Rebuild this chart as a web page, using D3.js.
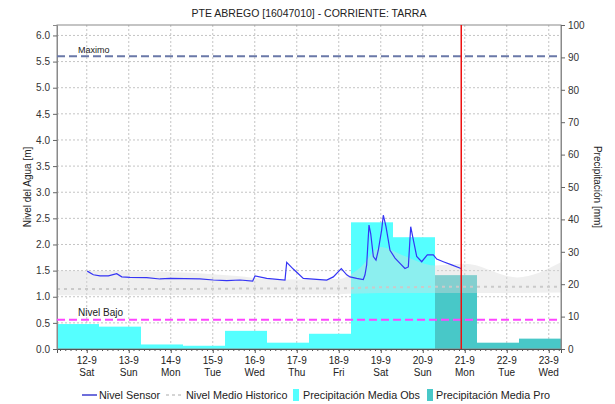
<!DOCTYPE html>
<html>
<head>
<meta charset="utf-8">
<script src="https://cdn.jsdelivr.net/npm/d3@7"></script>
<style>
  body { margin: 0; background: #fff; }
  svg { font-family: "Liberation Sans", Arial, sans-serif; }
</style>
</head>
<body>
<div id="chart"></div>
<script>
// Datos (fechas dia-mes hora, año 2020)
const titulo = 'PTE ABREGO [16047010] - CORRIENTE: TARRA'
const dias = ['12-9', '13-9', '14-9', '15-9', '16-9', '17-9', '18-9', '19-9', '20-9', '21-9', '22-9', '23-9']
const diasSemana = ['Sat', 'Sun', 'Mon', 'Tue', 'Wed', 'Thu', 'Fri', 'Sat', 'Sun', 'Mon', 'Tue', 'Wed']

// Nivel del sensor [m]
const sensorFechas = ['12-9 00:18', '12-9 03:45', '12-9 07:34', '12-9 12:20', '12-9 17:07', '12-9 20:00',
  '13-9 00:43', '13-9 10:15', '13-9 17:51', '13-9 23:34', '14-9 16:43', '15-9 00:19', '15-9 08:00',
  '15-9 15:34', '15-9 22:50', '16-9 00:09', '16-9 06:50', '16-9 17:17', '16-9 18:15', '16-9 22:02',
  '17-9 03:44', '17-9 17:07', '17-9 20:53', '18-9 01:28', '18-9 04:33', '18-9 06:26', '18-9 10:15',
  '18-9 14:02', '18-9 15:00', '18-9 15:57', '18-9 17:17', '18-9 18:15', '18-9 19:46', '18-9 21:17',
  '18-9 22:36', '19-9 00:31', '19-9 01:28', '19-9 03:00', '19-9 05:17', '19-9 08:09', '19-9 11:00',
  '19-9 13:51', '19-9 15:45', '19-9 17:07', '19-9 18:15', '19-9 20:33', '19-9 23:24', '20-9 02:36',
  '20-9 06:02', '20-9 08:00', '20-9 11:45', '20-9 16:32', '20-9 21:51']
const sensorNivel = [1.49, 1.42, 1.40, 1.40, 1.44, 1.38,
  1.37, 1.365, 1.34, 1.35, 1.34, 1.32, 1.31,
  1.32, 1.30, 1.40, 1.35, 1.32, 1.66, 1.53,
  1.35, 1.32, 1.38, 1.54, 1.42, 1.38, 1.35,
  1.33, 1.42, 1.61, 2.37, 2.21, 1.77, 1.70,
  1.89, 2.28, 2.56, 2.34, 1.89, 1.74, 1.64,
  1.54, 1.57, 2.34, 2.15, 1.77, 1.67, 1.80,
  1.80, 1.72, 1.67, 1.61, 1.54]

// Nivel medio historico y banda
const histFechas = ['11-9 07:00', '13-9 00:00', '14-9 12:00', '15-9 12:00', '16-9 12:00', '18-9 00:00',
  '18-9 12:00', '19-9 00:00', '19-9 12:00', '20-9 07:00', '21-9 00:00', '22-9 06:00', '23-9 07:00']
const histMin = [1.03, 1.03, 1.04, 1.05, 1.05, 1.05, 1.06, 1.07, 1.07, 1.07, 1.07, 1.07, 1.08]
const histMax = [1.50, 1.49, 1.46, 1.40, 1.33, 1.34, 1.55, 1.95, 1.80, 1.60, 1.63, 1.37, 1.66]
const histMedio = [1.15, 1.15, 1.15, 1.155, 1.16, 1.16, 1.17, 1.18, 1.18, 1.19, 1.19, 1.19, 1.19]

// Precipitacion diaria (de 07:00 a 07:00) [mm]
const obsDias = ['11-9', '12-9', '13-9', '14-9', '15-9', '16-9', '17-9', '18-9', '19-9']
const precipObs = [7.7, 6.9, 1.4, 1.0, 5.6, 1.95, 4.7, 39.1, 34.5]
const proDias = ['20-9', '21-9', '22-9']
const precipPro = [22.8, 1.95, 3.2]

const nivelMaximo = 5.6
const nivelBajo = 0.56
const ahora = '20-9 22:00'

const parse = d3.timeParse('%Y %d-%m %H:%M')
const fecha = s => parse('2020 ' + s)

function drawChart() {
  const width = 615
  const height = 404
  const left = 57, right = 561, top = 25, bottom = 349

  const svg = d3.select('#chart').append('svg')
    .attr('width', width)
    .attr('height', height)

  svg.append('rect').attr('width', width).attr('height', height).attr('fill', '#fff')

  const x = d3.scaleTime()
    .domain([fecha('11-9 07:00'), fecha('23-9 07:00')])
    .range([left, right])
  const y = d3.scaleLinear().domain([0, 6.2]).range([bottom, top])
  const y2 = d3.scaleLinear().domain([0, 100]).range([bottom, top])

  const diasFechas = dias.map(d => fecha(d + ' 00:00'))
  const yTicks = d3.range(0, 6.01, 0.5)

  // rejilla
  const grid = svg.append('g')
  grid.selectAll('.gx').data(diasFechas).enter().append('line')
    .attr('x1', d => x(d)).attr('x2', d => x(d))
    .attr('y1', top).attr('y2', bottom)
    .attr('stroke', '#c4c4c4').attr('stroke-dasharray', '2,2')
  grid.selectAll('.gy').data(yTicks.slice(1)).enter().append('line')
    .attr('x1', left).attr('x2', right)
    .attr('y1', d => y(d)).attr('y2', d => y(d))
    .attr('stroke', '#c4c4c4').attr('stroke-dasharray', '2,2')

  // barras de precipitacion
  const barras = (dias, valores, color) => {
    svg.append('g').selectAll('rect')
      .data(valores).enter().append('rect')
      .attr('x', (d, i) => x(fecha(dias[i] + ' 07:00')))
      .attr('width', (d, i) => x(d3.timeDay.offset(fecha(dias[i] + ' 07:00'), 1)) - x(fecha(dias[i] + ' 07:00')))
      .attr('y', d => y2(d))
      .attr('height', d => y2(0) - y2(d))
      .attr('fill', color)
  }
  barras(obsDias, precipObs, '#55ffff')
  barras(proDias, precipPro, '#48c8c8')

  // banda historica
  const hist = histFechas.map((f, i) => ({ t: fecha(f), min: histMin[i], max: histMax[i], med: histMedio[i] }))
  const area = d3.area().curve(d3.curveMonotoneX)
    .x(d => x(d.t)).y0(d => y(d.min)).y1(d => y(d.max))
  svg.append('path').attr('d', area(hist))
    .attr('fill', '#d8d8d8').attr('fill-opacity', 0.42)
  const lineMed = d3.line().curve(d3.curveMonotoneX).x(d => x(d.t)).y(d => y(d.med))
  svg.append('path').attr('d', lineMed(hist))
    .attr('fill', 'none').attr('stroke', '#cacaca').attr('stroke-width', 2)
    .attr('stroke-dasharray', '3,4')

  // marco
  svg.append('rect')
    .attr('x', left).attr('y', top).attr('width', right - left).attr('height', bottom - top)
    .attr('fill', 'none').attr('stroke', '#8a8a8a')

  // ejes
  const axisY = svg.append('g')
    .attr('transform', `translate(${left},0)`)
    .call(d3.axisLeft(y).tickValues(yTicks).tickFormat(d3.format('.1f')).tickSize(4).tickPadding(3))
  const axisY2 = svg.append('g')
    .attr('transform', `translate(${right},0)`)
    .call(d3.axisRight(y2).tickValues(d3.range(0, 101, 10)).tickSize(4).tickPadding(3))
  ;[axisY, axisY2].forEach(a => {
    a.select('.domain').attr('stroke', '#8a8a8a')
    a.selectAll('line').attr('stroke', '#666')
    a.selectAll('text').attr('font-size', 10).attr('fill', '#333')
      .attr('font-family', '"Liberation Sans", Arial, sans-serif')
  })

  // eje x: marcas menores cada 3 horas
  svg.append('g').selectAll('line')
    .data(d3.timeHour.every(3).range(x.domain()[0], x.domain()[1]))
    .enter().append('line')
    .attr('x1', d => x(d)).attr('x2', d => x(d))
    .attr('y1', bottom).attr('y2', bottom + 2)
    .attr('stroke', '#555')
  const axisX = svg.append('g')
    .attr('transform', `translate(0,${bottom})`)
    .call(d3.axisBottom(x).tickValues(diasFechas).tickSize(4).tickFormat(''))
  axisX.select('.domain').attr('stroke', '#555')
  axisX.selectAll('line').attr('stroke', '#555')
  const etiquetas = svg.append('g').selectAll('text')
    .data(diasFechas).enter().append('text')
    .attr('x', d => x(d)).attr('y', bottom + 15)
    .attr('text-anchor', 'middle').attr('font-size', 10).attr('fill', '#222')
  etiquetas.append('tspan').attr('x', d => x(d)).text((d, i) => dias[i])
  etiquetas.append('tspan').attr('x', d => x(d)).attr('dy', 12).text((d, i) => diasSemana[i])

  // nivel del sensor
  const sensor = sensorFechas.map((f, i) => ({ t: fecha(f), v: sensorNivel[i] }))
  const lineSensor = d3.line().x(d => x(d.t)).y(d => y(d.v))
  svg.append('path').attr('d', lineSensor(sensor))
    .attr('fill', 'none').attr('stroke', '#3535f5').attr('stroke-width', 1.2)

  // umbrales
  svg.append('line')
    .attr('x1', left).attr('x2', right).attr('y1', y(nivelMaximo)).attr('y2', y(nivelMaximo))
    .attr('stroke', '#6a78a8').attr('stroke-width', 2).attr('stroke-dasharray', '8,4')
  svg.append('text').attr('x', 78).attr('y', y(nivelMaximo) - 3)
    .attr('font-size', 9).attr('fill', '#222').text('Maximo')
  svg.append('line')
    .attr('x1', left).attr('x2', right).attr('y1', y(nivelBajo)).attr('y2', y(nivelBajo))
    .attr('stroke', '#ff44ff').attr('stroke-width', 2).attr('stroke-dasharray', '8,4')
  svg.append('text').attr('x', 78).attr('y', y(nivelBajo) - 4)
    .attr('font-size', 10).attr('fill', '#222').text('Nivel Bajo')

  // linea de tiempo actual
  const xa = x(fecha(ahora))
  svg.append('line')
    .attr('x1', xa).attr('x2', xa)
    .attr('y1', top).attr('y2', bottom)
    .attr('stroke', '#ee1111').attr('stroke-width', 1.5)

  // titulos
  svg.append('text').attr('x', (left + right) / 2).attr('y', 17)
    .attr('text-anchor', 'middle').attr('font-size', 10.5).attr('fill', '#222').text(titulo)
  svg.append('text')
    .attr('transform', `translate(31,${(top + bottom) / 2}) rotate(-90)`)
    .attr('text-anchor', 'middle').attr('font-size', 10).attr('fill', '#222')
    .text('Nivel del Agua [m]')
  svg.append('text')
    .attr('transform', `translate(594,${(top + bottom) / 2}) rotate(90)`)
    .attr('text-anchor', 'middle').attr('font-size', 10).attr('fill', '#222')
    .text('Precipitación [mm]')

  // leyenda
  const ly = 395
  const leg = svg.append('g').attr('font-size', 10.8).attr('fill', '#222')
  leg.append('line').attr('x1', 82).attr('x2', 97).attr('y1', ly).attr('y2', ly)
    .attr('stroke', '#1f1fc8').attr('stroke-width', 1.3)
  leg.append('text').attr('x', 99).attr('y', ly + 4).text('Nivel Sensor')
  leg.append('line').attr('x1', 166).attr('x2', 182).attr('y1', ly).attr('y2', ly)
    .attr('stroke', '#c8c8c8').attr('stroke-width', 1.5).attr('stroke-dasharray', '3,3')
  leg.append('text').attr('x', 186).attr('y', ly + 4).text('Nivel Medio Historico')
  leg.append('rect').attr('x', 293).attr('y', ly - 6).attr('width', 6).attr('height', 12).attr('fill', '#55ffff')
  leg.append('text').attr('x', 303).attr('y', ly + 4).text('Precipitación Media Obs')
  leg.append('rect').attr('x', 427).attr('y', ly - 6).attr('width', 6).attr('height', 12).attr('fill', '#48c8c8')
  leg.append('text').attr('x', 436).attr('y', ly + 4).text('Precipitación Media Pro')
}

drawChart()
</script>
</body>
</html>
